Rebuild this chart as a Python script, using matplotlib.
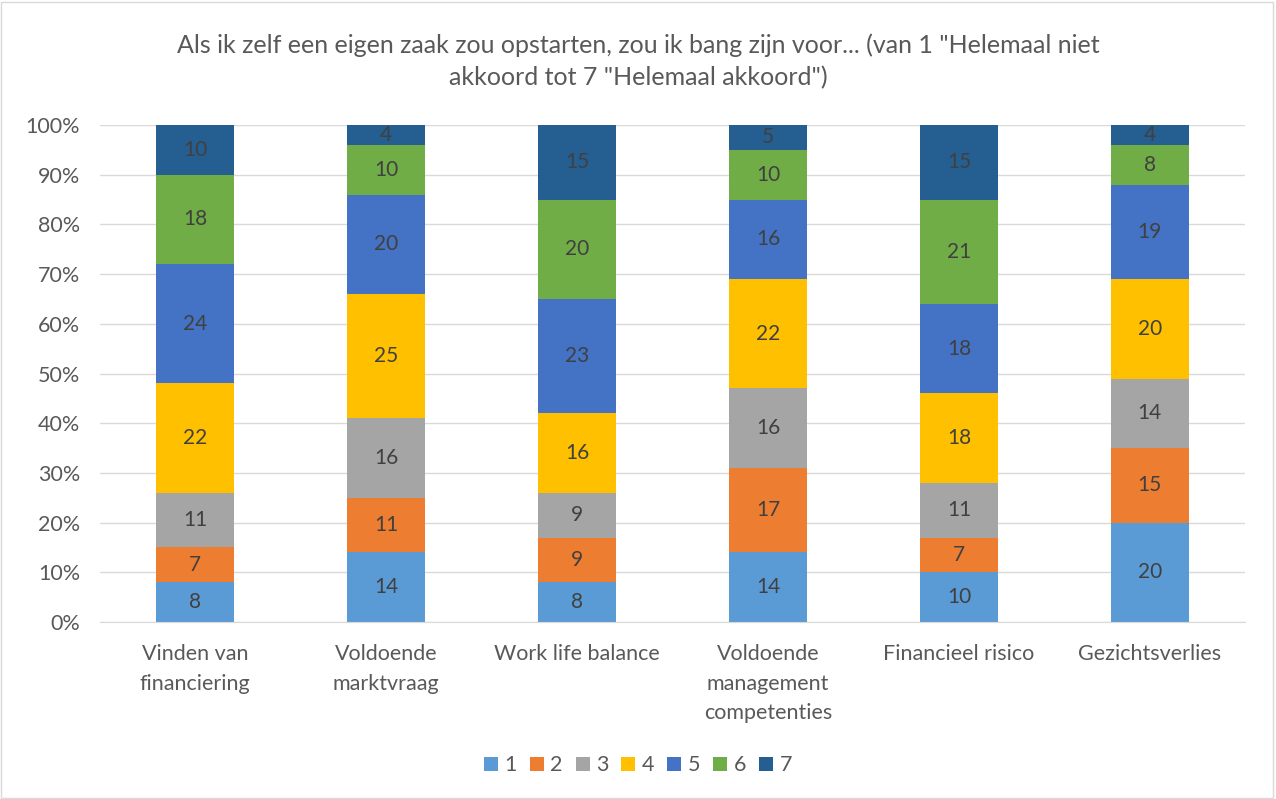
import numpy as np
import matplotlib.pyplot as plt
from matplotlib.ticker import PercentFormatter
from matplotlib.patches import Rectangle

plt.rcParams['font.family'] = ['Lato', 'DejaVu Sans']

categories = ["Vinden van\nfinanciering", "Voldoende\nmarktvraag", "Work life balance",
              "Voldoende\nmanagement\ncompetenties", "Financieel risico", "Gezichtsverlies"]
series = ["1", "2", "3", "4", "5", "6", "7"]
values = [
    [8, 14, 8, 14, 10, 20],
    [7, 11, 9, 17, 7, 15],
    [11, 16, 9, 16, 11, 14],
    [22, 25, 16, 22, 18, 20],
    [24, 20, 23, 16, 18, 19],
    [18, 10, 20, 10, 21, 8],
    [10, 4, 15, 5, 15, 4],
]
colors = ["#5B9BD5", "#ED7D31", "#A5A5A5", "#FFC000", "#4472C4", "#70AD47", "#255E91"]
title = 'Als ik zelf een eigen zaak zou opstarten, zou ik bang zijn voor... (van 1 "Helemaal niet\nakkoord tot 7 "Helemaal akkoord")'

fig = plt.figure(figsize=(12.76, 7.99), dpi=100)
ax = fig.add_axes([0.078, 0.2215, 0.898, 0.622])

x = np.arange(len(categories))
bottom = np.zeros(len(categories))
for name, vals, c in zip(series, values, colors):
    vals = np.array(vals, dtype=float)
    ax.bar(x, vals, 0.405, bottom=bottom, color=c, label=name, zorder=2)
    for xi, b, v in zip(x, bottom, vals):
        ax.text(xi, b + v / 2, f"{int(v)}", ha="center", va="center",
                fontsize=15, color="#404040", zorder=3)
    bottom += vals

ax.set_xlim(-0.5, len(categories) - 0.5)
ax.set_ylim(0, 100)
ax.set_yticks(np.arange(0, 101, 10))
ax.yaxis.set_major_formatter(PercentFormatter(decimals=0))
ax.set_xticks(x)
ax.set_xticklabels(categories, fontsize=15.5, color="#595959", linespacing=1.6)
ax.tick_params(axis="y", labelsize=15.5, labelcolor="#595959", length=0, pad=14)
ax.tick_params(axis="x", length=0, pad=16)
ax.grid(axis="y", color="#D9D9D9", linewidth=1, zorder=0)
for s in ["top", "right", "left"]:
    ax.spines[s].set_visible(False)
ax.spines["bottom"].set_color("#D9D9D9")

fig.text(0.5, 0.923, title, ha="center", va="center", fontsize=18,
         color="#595959", linespacing=1.5)

fig.legend(loc="center", bbox_to_anchor=(0.5, 0.042), ncol=7, frameon=False,
           fontsize=15.5, handlelength=0.65, handleheight=0.65,
           handletextpad=0.3, columnspacing=0.6, labelcolor="#595959")

fig.patches.append(Rectangle((0.001, 0.001), 0.997, 0.997, transform=fig.transFigure,
                             fill=False, edgecolor="#D9D9D9", linewidth=1))

fig.savefig("out.png", dpi=100)
